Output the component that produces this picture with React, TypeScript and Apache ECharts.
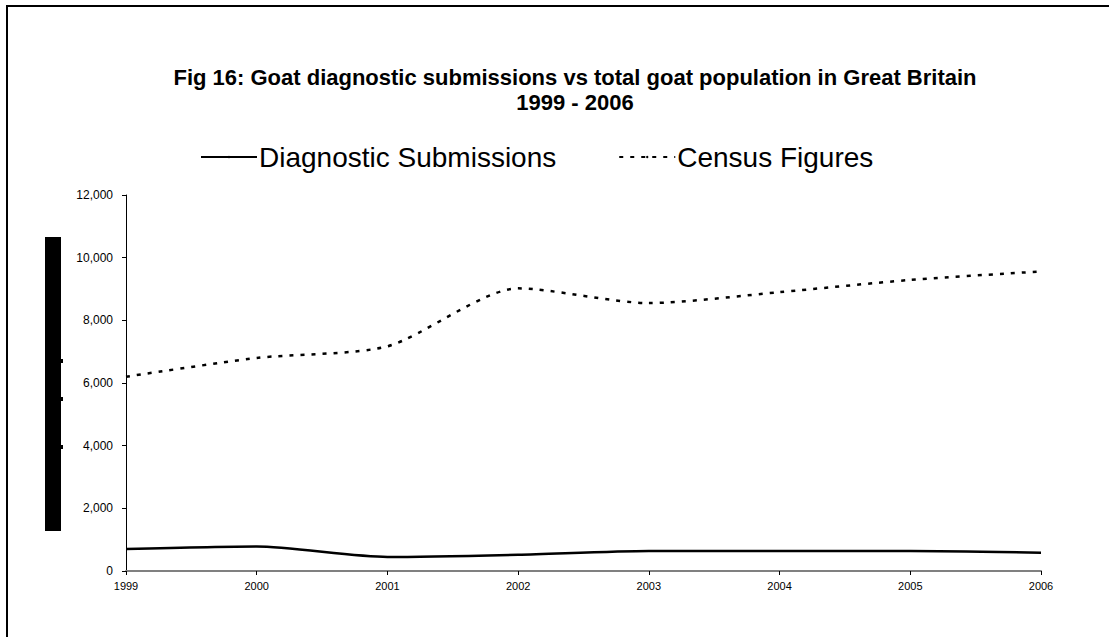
import React, { useEffect, useRef } from "react";
import * as echarts from "echarts";

const years = ["1999", "2000", "2001", "2002", "2003", "2004", "2005", "2006"];
const diagnosticSubmissions = [700, 780, 450, 520, 640, 640, 640, 585];
const censusFigures = [6200, 6800, 7170, 9020, 8550, 8900, 9290, 9560];
const yTicks = { min: 0, max: 12000, interval: 2000 };
const titleLines = [
  "Fig 16: Goat diagnostic submissions vs total goat population in Great Britain",
  "1999 - 2006",
];

export default function App() {
  const ref = useRef<HTMLDivElement>(null);
  useEffect(() => {
    if (!ref.current) return;
    const chart = echarts.init(ref.current, null, { renderer: "svg" });
    const font = "Liberation Sans, Arial, sans-serif";
    chart.setOption({
      animation: false,
      backgroundColor: "#ffffff",
      title: {
        text: titleLines.join("\n"),
        left: 570,
        top: 60,
        textAlign: "center",
        textStyle: {
          fontFamily: font,
          fontSize: 22,
          fontWeight: "bold",
          color: "#000",
          lineHeight: 25,
        },
      },
      legend: {
        top: 143,
        left: 200,
        padding: 0,
        itemWidth: 56,
        itemHeight: 3,
        itemGap: 62,
        textStyle: { fontFamily: font, fontSize: 28, color: "#000", padding: [0, 0, 0, -3] },
        data: ["Diagnostic Submissions", "Census Figures"],
      },
      grid: { left: 126, right: 68, top: 195, bottom: 66, containLabel: false },
      xAxis: {
        type: "category",
        data: years,
        boundaryGap: false,
        axisLine: { lineStyle: { color: "#808080", width: 2 } },
        axisTick: { length: 4, lineStyle: { color: "#000" } },
        axisLabel: { fontFamily: font, fontSize: 11, color: "#000", margin: 9 },
      },
      yAxis: {
        type: "value",
        min: yTicks.min,
        max: yTicks.max,
        interval: yTicks.interval,
        splitLine: { show: false },
        axisLine: { show: true, lineStyle: { color: "#000", width: 1 } },
        axisTick: { show: true, length: 4, lineStyle: { color: "#000" } },
        axisLabel: {
          fontFamily: font,
          fontSize: 12,
          color: "#000",
          margin: 13,
          formatter: (v: number) => v.toLocaleString("en-US"),
        },
      },
      series: [
        {
          name: "Diagnostic Submissions",
          type: "line",
          data: diagnosticSubmissions,
          smooth: 0.25,
          symbol: "none",
          lineStyle: { color: "#000", width: 2.5, type: "solid" },
          itemStyle: { color: "#000" },
        },
        {
          name: "Census Figures",
          type: "line",
          data: censusFigures,
          smooth: 0.25,
          symbol: "none",
          lineStyle: { color: "#000", width: 2.5, type: [4, 7] },
          itemStyle: { color: "#000" },
        },
      ],
      graphic: [
        {
          type: "rect",
          shape: { x: 7, y: 6, width: 1300, height: 800 },
          style: { fill: "none", stroke: "#000", lineWidth: 2 },
          silent: true,
        },
        { type: "rect", shape: { x: 45, y: 237, width: 16, height: 294 }, style: { fill: "#000" } },
        { type: "rect", shape: { x: 61, y: 359, width: 2, height: 4 }, style: { fill: "#000" } },
        { type: "rect", shape: { x: 61, y: 397, width: 2, height: 4 }, style: { fill: "#000" } },
        { type: "rect", shape: { x: 61, y: 445, width: 2, height: 4 }, style: { fill: "#000" } },
      ],
    });
    return () => chart.dispose();
  }, []);
  return (
    <div
      ref={ref}
      style={{ position: "fixed", left: 0, top: 0, width: 1109, height: 637, background: "#fff" }}
    />
  );
}
